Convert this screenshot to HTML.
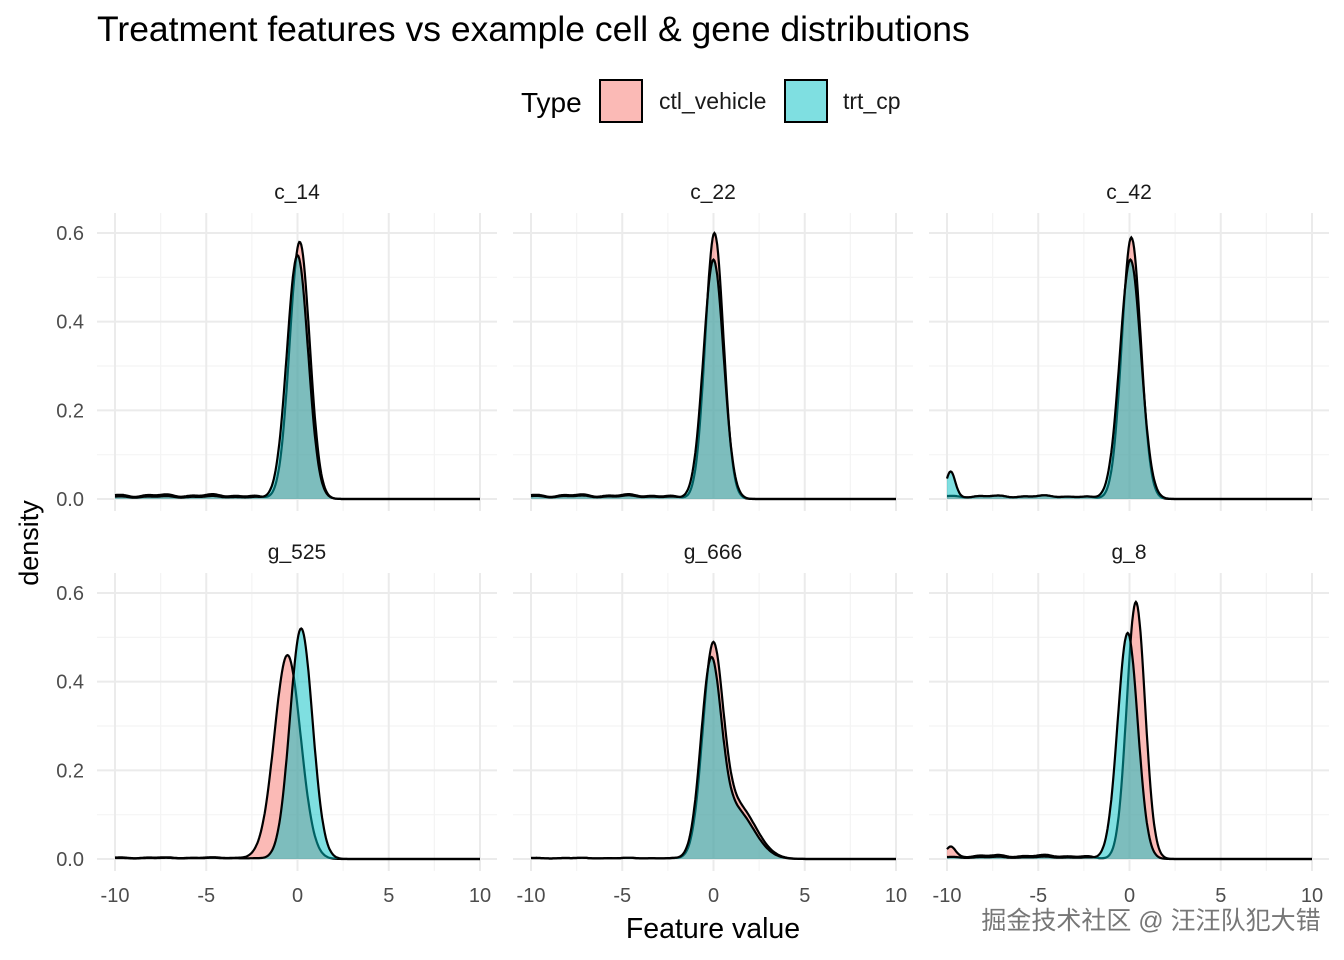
<!DOCTYPE html>
<html><head><meta charset="utf-8"><style>
body{margin:0;background:#fff;}
svg{display:block;font-family:"Liberation Sans","Noto Sans CJK SC",sans-serif;}
</style></head><body>
<svg id="s" width="1344" height="960" viewBox="0 0 1344 960">
<rect width="1344" height="960" fill="#fff"/>
<text x="97" y="41" font-size="35.5" fill="#000">Treatment features vs example cell &amp; gene distributions</text>
<text x="521" y="112" font-size="28" fill="#000">Type</text>
<rect x="600" y="80" width="42" height="42" fill="#F8766D" fill-opacity="0.5" stroke="#000" stroke-width="2"/>
<text x="659" y="109" font-size="23" fill="#1a1a1a">ctl_vehicle</text>
<rect x="785" y="80" width="42" height="42" fill="#00BFC4" fill-opacity="0.5" stroke="#000" stroke-width="2"/>
<text x="843" y="109" font-size="23" fill="#1a1a1a">trt_cp</text>
<text transform="translate(38,543) rotate(-90)" text-anchor="middle" font-size="27" fill="#000">density</text>
<text x="713" y="938" text-anchor="middle" font-size="28.5" fill="#000">Feature value</text>
<g id="p"></g>
<text x="1151" y="929" text-anchor="middle" font-size="25" fill="#777" stroke="#fff" stroke-width="3" paint-order="stroke">掘金技术社区 @ 汪汪队犯大错</text>
</svg>
<script>
const g=document.getElementById('p');let h='';
const X0=[115,531,947],Y0=[499,859],sx=18.25,sy=443.3;
const names=[['c_14','c_22','c_42'],['g_525','g_666','g_8']];
const P={
c_14:{c:[[0.58,0.12,0.55]],t:[[0.55,0,0.58]],tailc:0.008,tailt:0.005},
c_22:{c:[[0.60,0.05,0.5]],t:[[0.54,0,0.55]],tailc:0.008,tailt:0.006},
c_42:{c:[[0.59,0.1,0.52]],t:[[0.54,0.05,0.58]],tailc:0.006,tailt:0.006,spk:[0,0.055]},
g_525:{c:[[0.46,-0.55,0.72]],t:[[0.52,0.2,0.62]],tailc:0.003,tailt:0.002},
g_666:{c:[[0.44,-0.05,0.55],[0.12,1.3,1.0]],t:[[0.41,-0.15,0.55],[0.11,1.2,1.0]],tailc:0.002,tailt:0.002},
g_8:{c:[[0.58,0.35,0.5]],t:[[0.51,-0.1,0.55]],tailc:0.007,tailt:0.004,spk:[0.02,0]}
};
function f(cs,tail,spk,x){let y=0;for(const[a,m,s]of cs)y+=a*Math.exp(-(x-m)*(x-m)/(2*s*s));
 const w=1/(1+Math.exp((x+2)*3));
 y+=w*tail*(1+0.25*Math.sin(x*2.3)+0.15*Math.sin(x*5.1));
 if(spk)y+=spk*Math.exp(-(x+9.8)*(x+9.8)/(2*0.06));return y;}
for(let r=0;r<2;r++)for(let c=0;c<3;c++){
 const x0=X0[c],y0=Y0[r],L=x0-18,R=x0+382,T=y0-286,B=y0+12;
 for(const v of [-7.5,-2.5,2.5,7.5])h+=`<line x1="${x0+(v+10)*sx}" x2="${x0+(v+10)*sx}" y1="${T}" y2="${B}" stroke="#f4f4f4" stroke-width="1.2"/>`;
 for(const v of [0.1,0.3,0.5])h+=`<line x1="${L}" x2="${R}" y1="${y0-v*sy}" y2="${y0-v*sy}" stroke="#f4f4f4" stroke-width="1.2"/>`;
 for(const v of [-10,-5,0,5,10])h+=`<line x1="${x0+(v+10)*sx}" x2="${x0+(v+10)*sx}" y1="${T}" y2="${B}" stroke="#ebebeb" stroke-width="2"/>`;
 for(const v of [0,0.2,0.4,0.6])h+=`<line x1="${L}" x2="${R}" y1="${y0-v*sy}" y2="${y0-v*sy}" stroke="#ebebeb" stroke-width="2"/>`;
 const n=names[r][c],p=P[n];
 h+=`<text x="${x0+182}" y="${y0-300}" text-anchor="middle" font-size="21" fill="#1a1a1a">${n}</text>`;
 if(c==0)for(const v of [0,0.2,0.4,0.6])h+=`<text x="84" y="${y0-v*sy+7}" text-anchor="end" font-size="20" fill="#4d4d4d">${v.toFixed(1)}</text>`;
 if(r==1)for(const v of [-10,-5,0,5,10])h+=`<text x="${x0+(v+10)*sx}" y="902" text-anchor="middle" font-size="20" fill="#4d4d4d">${v}</text>`;
 for(const [k,col] of [['c','#F8766D'],['t','#00BFC4']]){
  const spk=p.spk?(k=='c'?p.spk[0]:p.spk[1]):0;
  let pts=[];for(let x=-10;x<=10.001;x+=0.05)pts.push([(x0+(x+10)*sx).toFixed(1),(y0-f(p[k],k=='c'?p.tailc:p.tailt,spk,x)*sy).toFixed(1)]);
  const d='M'+pts.map(q=>q.join(',')).join('L');
  h+=`<path d="${d}L${x0+365},${y0}L${x0},${y0}Z" fill="${col}" fill-opacity="0.5"/>`;
  h+=`<path d="${d}" fill="none" stroke="#000" stroke-width="2.2"/>`;
 }
}
g.innerHTML=h;
</script>
</body></html>
